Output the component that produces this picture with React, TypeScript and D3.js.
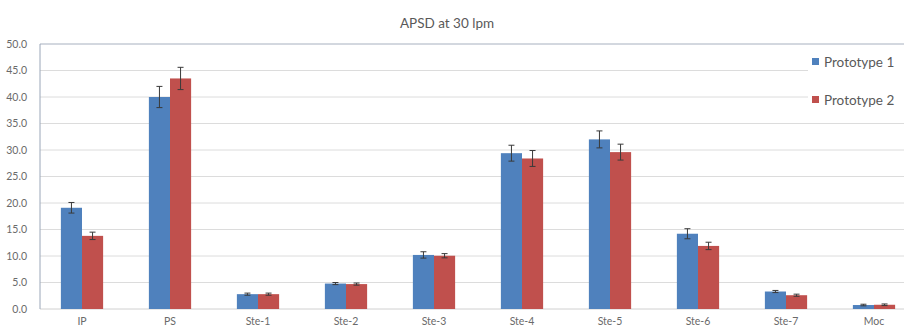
import React, { useEffect, useRef } from 'react';
import * as d3 from 'd3';

const categories = ['IP', 'PS', 'Ste-1', 'Ste-2', 'Ste-3', 'Ste-4', 'Ste-5', 'Ste-6', 'Ste-7', 'Moc'];
const seriesNames = ['Prototype 1', 'Prototype 2'];
const prototype1 = [19.1, 40.0, 2.8, 4.8, 10.2, 29.4, 32.0, 14.2, 3.3, 0.75];
const prototype2 = [13.8, 43.5, 2.8, 4.7, 10.05, 28.4, 29.6, 11.9, 2.6, 0.8];
const prototype1Err = [1.0, 2.0, 0.2, 0.2, 0.6, 1.5, 1.6, 0.95, 0.2, 0.15];
const prototype2Err = [0.7, 2.1, 0.2, 0.2, 0.4, 1.5, 1.5, 0.7, 0.2, 0.15];
const yTicks = [0, 5, 10, 15, 20, 25, 30, 35, 40, 45, 50];
const colors = ['#4f81bd', '#c0504d'];

const App = () => {
  const svgRef = useRef<SVGSVGElement>(null);

  useEffect(() => {
    const W = 904;
    const H = 327;
    const svg = d3.select(svgRef.current);
    svg.selectAll('*').remove();
    svg.attr('width', W).attr('height', H);

    const font = 'Lato, "Open Sans", sans-serif';
    const left = 40;
    const top = 44;
    const bottom = 309;

    svg.append('rect').attr('width', W).attr('height', H).attr('fill', '#fff');

    const x = d3.scaleBand().domain(categories).range([38, 918]).paddingInner(0.52).paddingOuter(0.26);
    const xs = d3.scaleBand().domain(['0', '1']).range([0, x.bandwidth()]);
    const y = d3.scaleLinear().domain([0, 50]).range([bottom, top]);

    // title
    svg.append('text')
      .attr('x', 447).attr('y', 28)
      .attr('text-anchor', 'middle')
      .attr('font-family', font).attr('font-size', 13.5)
      .attr('fill', '#595959')
      .text('APSD at 30 lpm');

    // gridlines
    svg.append('g').selectAll('line')
      .data(yTicks.filter(t => t > 0 && t < 50))
      .enter().append('line')
      .attr('x1', left).attr('x2', W)
      .attr('y1', d => y(d)).attr('y2', d => y(d))
      .attr('stroke', '#dcdcdc').attr('stroke-width', 1);

    // top border & axes
    svg.append('line').attr('x1', left).attr('x2', W).attr('y1', y(50)).attr('y2', y(50))
      .attr('stroke', '#a7b0bf').attr('stroke-width', 1);
    svg.append('line').attr('x1', left).attr('x2', W).attr('y1', y(0)).attr('y2', y(0))
      .attr('stroke', '#d0d0d0').attr('stroke-width', 1);
    svg.append('line').attr('x1', left).attr('x2', left).attr('y1', y(50)).attr('y2', y(0))
      .attr('stroke', '#9aa6b8').attr('stroke-width', 1);

    // y labels
    svg.append('g').selectAll('text')
      .data(yTicks)
      .enter().append('text')
      .attr('x', 27).attr('y', d => y(d) + 3.5)
      .attr('text-anchor', 'end')
      .attr('font-family', font).attr('font-size', 10.5)
      .attr('fill', '#6a6a6a')
      .text(d => d3.format('.1f')(d));

    // x labels
    svg.append('g').selectAll('text')
      .data(categories)
      .enter().append('text')
      .attr('x', d => (x(d) as number) + x.bandwidth() / 2)
      .attr('y', 325)
      .attr('text-anchor', 'middle')
      .attr('font-family', font).attr('font-size', 10.5)
      .attr('fill', '#6a6a6a')
      .text(d => d);

    const series = [prototype1, prototype2];
    const errs = [prototype1Err, prototype2Err];

    series.forEach((vals, si) => {
      const g = svg.append('g');
      g.selectAll('rect')
        .data(categories)
        .enter().append('rect')
        .attr('x', d => (x(d) as number) + (xs(String(si)) as number))
        .attr('y', (d, i) => y(vals[i]))
        .attr('width', xs.bandwidth())
        .attr('height', (d, i) => y(0) - y(vals[i]))
        .attr('fill', colors[si]);

      // error bars
      categories.forEach((c, i) => {
        const cx = (x(c) as number) + (xs(String(si)) as number) + xs.bandwidth() / 2;
        const hi = y(vals[i] + errs[si][i]);
        const lo = y(vals[i] - errs[si][i]);
        g.append('line').attr('x1', cx).attr('x2', cx).attr('y1', hi).attr('y2', lo)
          .attr('stroke', '#3a3a3a').attr('stroke-width', 1);
        g.append('line').attr('x1', cx - 3).attr('x2', cx + 3).attr('y1', hi).attr('y2', hi)
          .attr('stroke', '#3a3a3a').attr('stroke-width', 1);
        g.append('line').attr('x1', cx - 3).attr('x2', cx + 3).attr('y1', lo).attr('y2', lo)
          .attr('stroke', '#3a3a3a').attr('stroke-width', 1);
      });
    });

    // legend
    const legend = svg.append('g');
    legend.append('rect').attr('x', 808).attr('y', 50).attr('width', 96).attr('height', 62).attr('fill', '#fff');
    seriesNames.forEach((name, i) => {
      const ly = 62 + i * 38;
      legend.append('rect').attr('x', 812).attr('y', ly - 4).attr('width', 7).attr('height', 7).attr('fill', colors[i]);
      legend.append('text')
        .attr('x', 824).attr('y', ly + 4.5)
        .attr('font-family', font).attr('font-size', 13.5)
        .attr('fill', '#595959')
        .text(name);
    });
  }, []);

  return (
    <div style={{ position: 'absolute', left: 0, top: 0 }}>
      <svg ref={svgRef}></svg>
    </div>
  );
};

export default App;
